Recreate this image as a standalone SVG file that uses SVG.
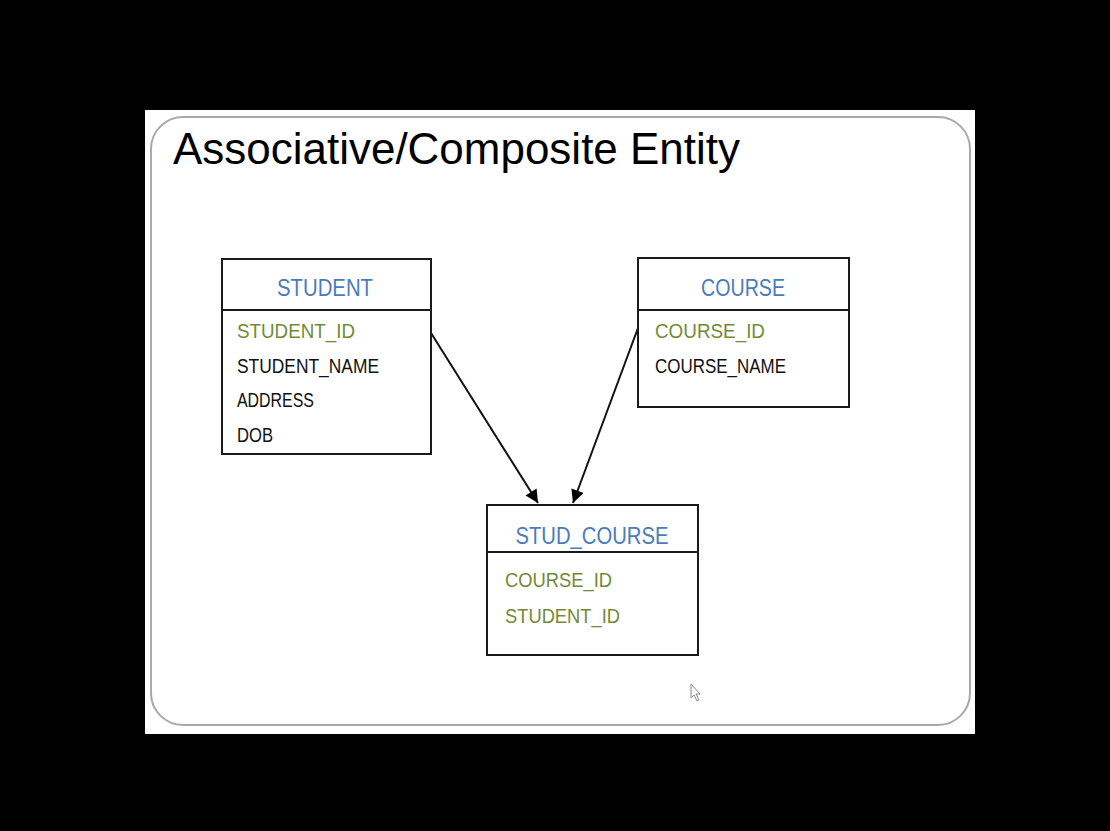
<svg xmlns="http://www.w3.org/2000/svg" width="1110" height="831" viewBox="0 0 1110 831">
  <defs>
    <marker id="arr" viewBox="0 0 10 10" refX="10" refY="5" markerWidth="14" markerHeight="13" markerUnits="userSpaceOnUse" orient="auto">
      <path d="M0,0 L10,5 L0,10 z" fill="#000"/>
    </marker>
    <style>
      .box { fill: #fff; stroke: #1a1a1a; stroke-width: 2; }
      .div { stroke: #1a1a1a; stroke-width: 2; }
      .hdr { font-family: "Liberation Sans", Arial, sans-serif; font-size: 23px; fill: #4a7bbd; text-anchor: middle; }
      .key { font-family: "Liberation Sans", Arial, sans-serif; font-size: 20px; fill: #6f8c35; }
      .att { font-family: "Liberation Sans", Arial, sans-serif; font-size: 20px; fill: #111; }
      .conn { stroke: #111; stroke-width: 2; fill: none; }
    </style>
  </defs>
  <rect x="0" y="0" width="1110" height="831" fill="#000"/>
  <rect x="145" y="110" width="830" height="624" fill="#fff"/>
  <rect x="151" y="117" width="819" height="608" rx="32" ry="32" fill="#fff" stroke="#a9a9a9" stroke-width="2"/>
  <text x="173" y="164" font-family="Liberation Sans, Arial, sans-serif" font-size="44" fill="#000" textLength="567" lengthAdjust="spacingAndGlyphs">Associative/Composite Entity</text>

  <g id="connectors">
    <line class="conn" x1="431" y1="333" x2="538" y2="503" marker-end="url(#arr)"/>
    <line class="conn" x1="638" y1="328" x2="573" y2="503" marker-end="url(#arr)"/>
  </g>

  <g id="student">
    <rect class="box" x="222" y="259" width="209" height="195"/>
    <line class="div" x1="222" y1="310" x2="431" y2="310"/>
    <text class="hdr" x="325" y="296" textLength="96" lengthAdjust="spacingAndGlyphs">STUDENT</text>
    <text class="key" x="237" y="338" textLength="118" lengthAdjust="spacingAndGlyphs">STUDENT_ID</text>
    <text class="att" x="237" y="373" textLength="142" lengthAdjust="spacingAndGlyphs">STUDENT_NAME</text>
    <text class="att" x="237" y="407" textLength="77" lengthAdjust="spacingAndGlyphs">ADDRESS</text>
    <text class="att" x="237" y="442" textLength="36" lengthAdjust="spacingAndGlyphs">DOB</text>
  </g>

  <g id="course">
    <rect class="box" x="638" y="258" width="211" height="149"/>
    <line class="div" x1="638" y1="310" x2="849" y2="310"/>
    <text class="hdr" x="743" y="296" textLength="84" lengthAdjust="spacingAndGlyphs">COURSE</text>
    <text class="key" x="655" y="338" textLength="110" lengthAdjust="spacingAndGlyphs">COURSE_ID</text>
    <text class="att" x="655" y="373" textLength="131" lengthAdjust="spacingAndGlyphs">COURSE_NAME</text>
  </g>

  <g id="stud_course">
    <rect class="box" x="487" y="505" width="211" height="150"/>
    <line class="div" x1="487" y1="552" x2="698" y2="552"/>
    <text class="hdr" x="592" y="544" textLength="153" lengthAdjust="spacingAndGlyphs">STUD_COURSE</text>
    <text class="key" x="505" y="587" textLength="107" lengthAdjust="spacingAndGlyphs">COURSE_ID</text>
    <text class="key" x="505" y="623" textLength="115" lengthAdjust="spacingAndGlyphs">STUDENT_ID</text>
  </g>

  <path d="M691,684 L691,698 L694,695 L697,701 L699,700 L696,694 L700,694 Z" fill="#fff" stroke="#888" stroke-width="1"/>
</svg>
